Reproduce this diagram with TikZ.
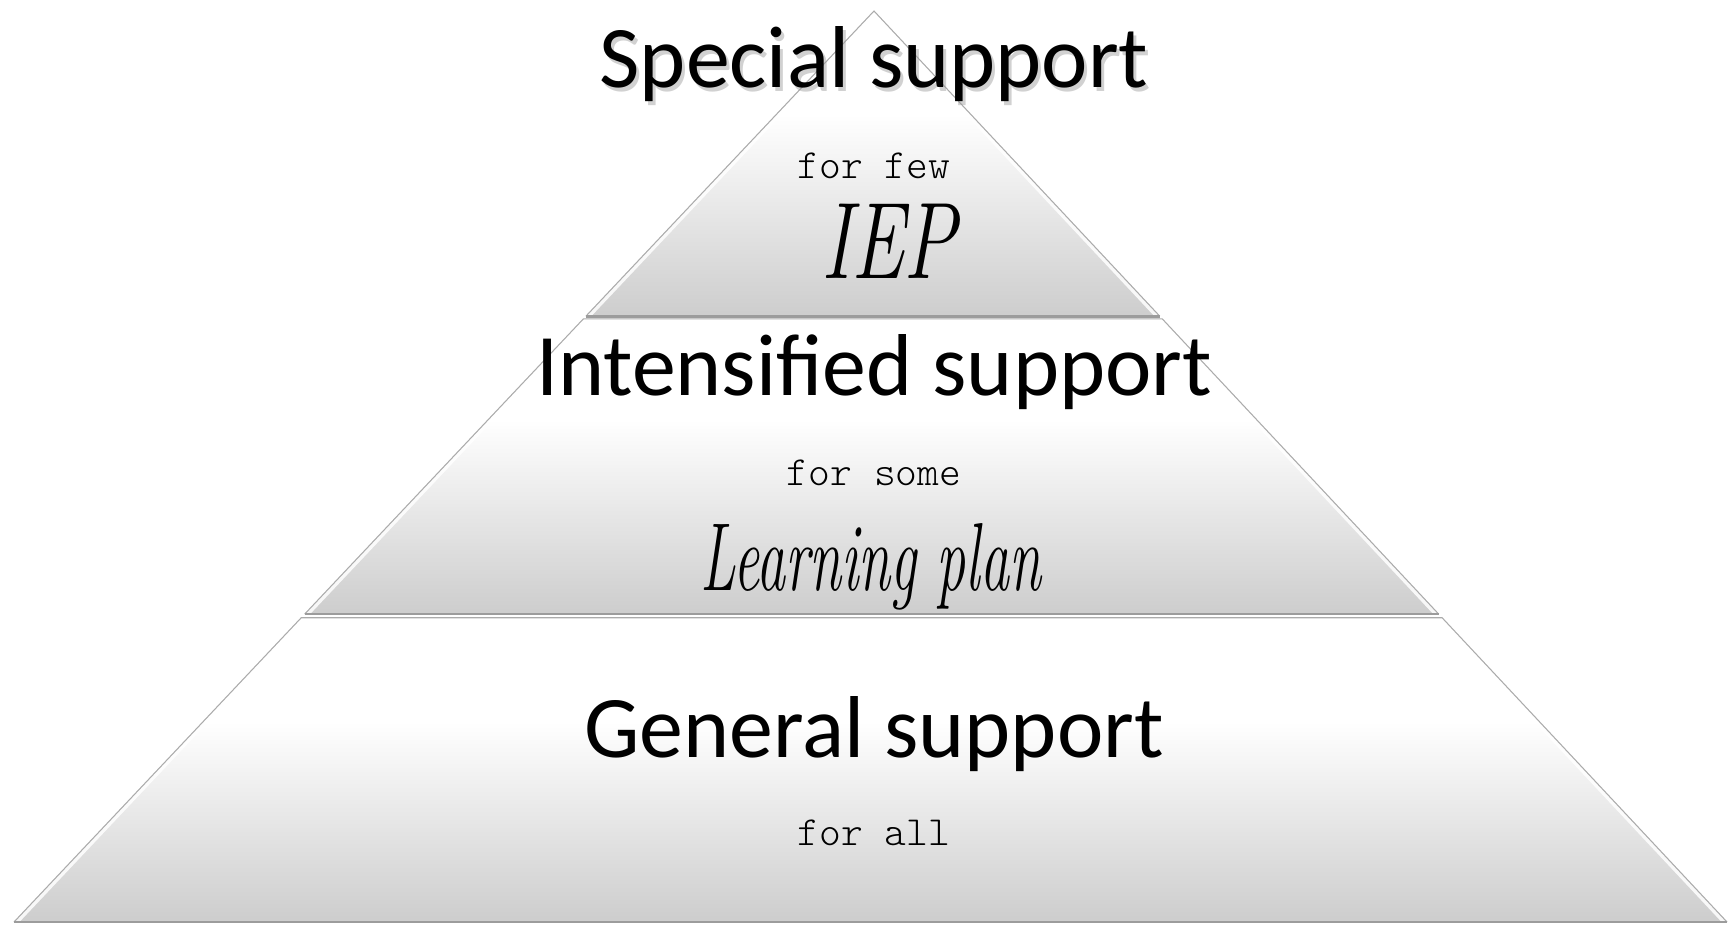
\documentclass[tikz,border=0pt]{standalone}
\usepackage{fontspec}
\newfontfamily\calibri{Carlito}
\newfontfamily\courier{lmmonolt10-regular.otf}
\usetikzlibrary{calc}

\definecolor{tierbot}{HTML}{CDCDCD}
\definecolor{edgegray}{HTML}{ABABAB}
\definecolor{basegray}{HTML}{9C9C9C}
\pgfdeclareverticalshading{tiershade}{100bp}{color(0bp)=(tierbot); color(25bp)=(tierbot); color(58bp)=(white); color(100bp)=(white)}

\tikzset{
  tier/.style={shading=tiershade},
  tieredge/.style={draw=edgegray, line width=0.6pt, line join=miter},
  bevel/.style={draw=white, line width=4.5pt, opacity=0.85},
  tierbase/.style={draw=basegray, line width=1.6pt},
  heading/.style={anchor=base, inner sep=0pt, font=\calibri\fontsize{50}{56}\selectfont},
  reach/.style={anchor=base, inner sep=0pt, font=\courier\fontsize{23.6}{26}\selectfont},
  plan/.style={anchor=base, inner sep=0pt, font=\itshape}
}

\begin{document}
\begin{tikzpicture}[x=0.02cm, y=-0.02cm]

\useasboundingbox (0,0) rectangle (1729,926);

\coordinate (apex) at (874,11);
\coordinate (bl) at (14,922);
\coordinate (br) at (1727,922);

% special tier
\coordinate (sl) at ($(apex)!0.335!(bl)$);
\coordinate (sr) at ($(apex)!0.335!(br)$);
\path[tier] (apex) -- (sr) -- (sl) -- cycle;
\begin{scope}
  \clip (apex) -- (sr) -- (sl) -- cycle;
  \draw[bevel] (sl) -- (apex) -- (sr);
\end{scope}
\draw[tieredge] (sl) -- (apex) -- (sr);
\draw[tierbase] (sl) -- (sr);

% intensified tier
\coordinate (itl) at ($(apex)!0.338!(bl)$);
\coordinate (itr) at ($(apex)!0.338!(br)$);
\coordinate (ibl) at ($(apex)!0.662!(bl)$);
\coordinate (ibr) at ($(apex)!0.662!(br)$);
\path[tier] (itl) -- (itr) -- (ibr) -- (ibl) -- cycle;
\begin{scope}
  \clip (itl) -- (itr) -- (ibr) -- (ibl) -- cycle;
  \draw[bevel] (ibl) -- (itl);
  \draw[bevel] (itr) -- (ibr);
\end{scope}
\draw[tieredge] (ibl) -- (itl) -- (itr) -- (ibr);
\draw[tierbase] (ibl) -- (ibr);

% general tier
\coordinate (gtl) at ($(apex)!0.666!(bl)$);
\coordinate (gtr) at ($(apex)!0.666!(br)$);
\path[tier] (gtl) -- (gtr) -- (br) -- (bl) -- cycle;
\begin{scope}
  \clip (gtl) -- (gtr) -- (br) -- (bl) -- cycle;
  \draw[bevel] (bl) -- (gtl);
  \draw[bevel] (gtr) -- (br);
\end{scope}
\draw[tieredge] (bl) -- (gtl) -- (gtr) -- (br);
\draw[tierbase] (bl) -- (br);

% texts
\node[heading, text=black!40, opacity=0.45] (specialshadow) at (877,92) {Special support};
\node[heading] (special) at (874,88) {Special support};
\node[reach] (few) at (874,178) {for few};
\node[plan] (iep) at (889,278) {\fontsize{62}{70}\selectfont\scalebox{0.73}[1]{IEP}};

\node[heading] (intensified) at (874,395) {Intensified support};
\node[reach] (some) at (874,485) {for some};
\node[plan] (learning) at (871,590) {\fontsize{55}{62}\selectfont\scalebox{0.6}[1]{Learning plan}};

\node[heading] (general) at (874,757) {General support};
\node[reach] (all) at (874,845) {for all};

\end{tikzpicture}
\end{document}
